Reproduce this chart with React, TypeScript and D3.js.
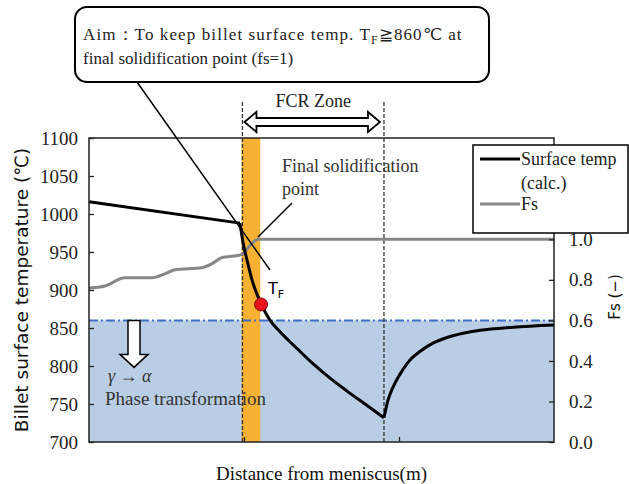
import * as d3 from "d3";
import { useEffect, useRef } from "react";

// distance from meniscus (m, arbitrary 0-3 units) vs billet surface temp (°C)
const tempDist = [0, 0.974, 0.994, 1.02, 1.052, 1.11, 1.168, 1.232, 1.342, 1.445, 1.555, 1.665, 1.794, 1.903, 1.929, 1.961, 2.006, 2.071, 2.135, 2.219, 2.31, 2.413, 2.523, 2.735, 3.0];
const tempValues = [1016, 988, 962, 939, 913, 882, 860, 845, 823, 803, 784, 767, 748, 732, 755, 772, 789, 808, 819, 830, 837.5, 843, 847, 851, 854];
const kinkIndex = 1;
const minIndex = 13;

// solid fraction
const fsDist = [0, 0.103, 0.232, 0.406, 0.49, 0.555, 0.729, 0.794, 0.858, 0.961, 0.994, 1.039, 1.09, 1.155, 3.0];
const fsValues = [0.76, 0.77, 0.81, 0.81, 0.83, 0.85, 0.86, 0.88, 0.91, 0.92, 0.93, 0.97, 1.0, 1.0, 1.0];

const leftTicks = [700, 750, 800, 850, 900, 950, 1000, 1050, 1100];
const rightTicks = [0, 0.2, 0.4, 0.6, 0.8, 1.0];
const bottomTicks = [1, 2];

const aimTemp = 860;
const fcrZone = [0.99, 1.903];
const solidBand = [0.985, 1.105];
const finalPoint = { dist: 1.11, temp: 881 };

const serif = "'Liberation Serif', serif";
const sans = "'DejaVu Sans', sans-serif";

export default function App() {
  const ref = useRef<SVGSVGElement>(null);
  const width = 629;
  const height = 484;
  const m = { left: 89, right: 75, top: 138, bottom: 42 };

  useEffect(() => {
    const svg = d3.select(ref.current);
    svg.selectAll("*").remove();

    const x = d3.scaleLinear().domain([0, 3]).range([m.left, width - m.right]);
    const y = d3.scaleLinear().domain([700, 1100]).range([height - m.bottom, m.top]);
    const y2 = d3.scaleLinear().domain([0, 1.5]).range([height - m.bottom, m.top]);
    const [x0, x1] = x.range();
    const [yb, yt] = y.range();

    // phase transformation region
    svg.append("rect")
      .attr("x", x0).attr("y", y(aimTemp))
      .attr("width", x1 - x0).attr("height", yb - y(aimTemp))
      .attr("fill", "#b9cde5");

    // final solidification band
    svg.append("rect")
      .attr("x", x(solidBand[0])).attr("y", yt)
      .attr("width", x(solidBand[1]) - x(solidBand[0])).attr("height", yb - yt)
      .attr("fill", "#f6b133");

    svg.append("line")
      .attr("x1", x0).attr("x2", x1)
      .attr("y1", y(aimTemp)).attr("y2", y(aimTemp))
      .attr("stroke", "#3f6fc6").attr("stroke-width", 2)
      .attr("stroke-dasharray", "9,3,2,3");

    // FCR zone bounds
    svg.append("g")
      .selectAll("line")
      .data(fcrZone)
      .join("line")
      .attr("x1", (d) => x(d)).attr("x2", (d) => x(d))
      .attr("y1", 102).attr("y2", yb)
      .attr("stroke", "#333").attr("stroke-width", 1.3)
      .attr("stroke-dasharray", "4,2");

    // Fs curve
    const fsLine = d3.line<number>()
      .x((d, i) => x(fsDist[i]))
      .y((d) => y2(d))
      .curve(d3.curveMonotoneX);
    svg.append("path")
      .attr("d", fsLine(fsValues))
      .attr("fill", "none").attr("stroke", "#878787").attr("stroke-width", 3);

    // surface temperature curve, split at the kink and at the minimum
    const pts = tempDist.map((d, i) => [d, tempValues[i]] as [number, number]);
    const segs: [[number, number][], d3.CurveFactory][] = [
      [pts.slice(0, kinkIndex + 1), d3.curveLinear],
      [pts.slice(kinkIndex, minIndex + 1), d3.curveMonotoneX],
      [pts.slice(minIndex), d3.curveMonotoneX],
    ];
    segs.forEach(([s, c]) => {
      const line = d3.line<[number, number]>().x((d) => x(d[0])).y((d) => y(d[1])).curve(c);
      svg.append("path")
        .attr("d", line(s))
        .attr("fill", "none").attr("stroke", "#000").attr("stroke-width", 3)
        .attr("stroke-linejoin", "round");
    });

    // frame
    svg.append("rect")
      .attr("x", x0).attr("y", yt)
      .attr("width", x1 - x0).attr("height", yb - yt)
      .attr("fill", "none").attr("stroke", "#222").attr("stroke-width", 1.5);

    const gl = svg.append("g")
      .attr("transform", `translate(${x0},0)`)
      .call(d3.axisLeft(y).tickValues(leftTicks).tickSize(-5).tickPadding(11).tickFormat(d3.format("d")));
    const gr = svg.append("g")
      .attr("transform", `translate(${x1},0)`)
      .call(d3.axisRight(y2).tickValues(rightTicks).tickSize(-5).tickPadding(15).tickFormat(d3.format(".1f")));
    const gb = svg.append("g")
      .attr("transform", `translate(0,${yb})`)
      .call(d3.axisBottom(x).tickValues(bottomTicks).tickSize(-5).tickFormat(() => ""));
    [gl, gr, gb].forEach((g) => {
      g.select(".domain").remove();
      g.selectAll(".tick line").attr("stroke", "#222").attr("stroke-width", 1.3);
      g.selectAll(".tick text")
        .attr("font-family", serif).attr("font-size", 19).attr("fill", "#222");
    });

    // axis titles
    svg.append("text")
      .attr("transform", `translate(21,${(yt + yb) / 2}) rotate(-90)`)
      .attr("text-anchor", "middle").attr("dominant-baseline", "central")
      .attr("font-family", sans).attr("font-size", 18.5).attr("fill", "#111")
      .text("Billet surface temperature (℃)");
    svg.append("text")
      .attr("transform", `translate(615,297) rotate(-90)`)
      .attr("text-anchor", "middle").attr("dominant-baseline", "central")
      .attr("font-family", sans).attr("font-size", 15).attr("fill", "#111")
      .text("Fs (−)");
    svg.append("text")
      .attr("x", (x0 + x1) / 2).attr("y", 480)
      .attr("text-anchor", "middle")
      .attr("font-family", serif).attr("font-size", 19).attr("fill", "#111")
      .text("Distance from meniscus(m)");

    // FCR zone double arrow
    const ax0 = x(fcrZone[0]) + 2;
    const ax1 = x(fcrZone[1]) - 4;
    const ay = 122;
    svg.append("polygon")
      .attr("points", [
        [ax0, ay], [ax0 + 12, ay - 10], [ax0 + 12, ay - 4], [ax1 - 12, ay - 4], [ax1 - 12, ay - 10],
        [ax1, ay], [ax1 - 12, ay + 10], [ax1 - 12, ay + 4], [ax0 + 12, ay + 4], [ax0 + 12, ay + 10],
      ].map((p) => p.join(",")).join(" "))
      .attr("fill", "#fff").attr("stroke", "#000").attr("stroke-width", 1.8);
    svg.append("text")
      .attr("x", (x(fcrZone[0]) + x(fcrZone[1])) / 2).attr("y", 107)
      .attr("text-anchor", "middle")
      .attr("font-family", serif).attr("font-size", 18).attr("fill", "#222")
      .text("FCR Zone");

    // phase transformation arrow and text
    const dx = 134;
    const dt = y(aimTemp);
    svg.append("polygon")
      .attr("points", [
        [dx - 6, dt], [dx + 6, dt], [dx + 6, dt + 34], [dx + 14, dt + 34],
        [dx, dt + 47], [dx - 14, dt + 34], [dx - 6, dt + 34],
      ].map((p) => p.join(",")).join(" "))
      .attr("fill", "#fff").attr("stroke", "#000").attr("stroke-width", 1.5);
    svg.append("text")
      .attr("x", 108).attr("y", 382)
      .attr("font-family", serif).attr("font-size", 18).attr("font-style", "italic").attr("fill", "#333")
      .text("γ → α");
    svg.append("text")
      .attr("x", 105).attr("y", 405)
      .attr("font-family", serif).attr("font-size", 19).attr("fill", "#333")
      .text("Phase transformation");

    // final solidification point annotation
    svg.append("line")
      .attr("x1", 292).attr("y1", 203).attr("x2", 258).attr("y2", 237)
      .attr("stroke", "#000").attr("stroke-width", 1.5);
    svg.append("text")
      .attr("font-family", serif).attr("font-size", 18).attr("fill", "#333")
      .call((t) => t.append("tspan").attr("x", 282).attr("y", 172).text("Final solidification"))
      .call((t) => t.append("tspan").attr("x", 282).attr("y", 195).text("point"));

    svg.append("circle")
      .attr("cx", x(finalPoint.dist)).attr("cy", y(finalPoint.temp)).attr("r", 6.5)
      .attr("fill", "#e8141b").attr("stroke", "#7a1010").attr("stroke-width", 1);
    svg.append("text")
      .attr("x", 268).attr("y", 294)
      .attr("font-family", sans).attr("font-size", 16).attr("fill", "#000")
      .call((t) => t.append("tspan").text("T"))
      .call((t) => t.append("tspan").attr("font-size", 11).attr("dy", 4).text("F"));

    // callout
    svg.append("line")
      .attr("x1", 137).attr("y1", 82).attr("x2", 270).attr("y2", 270)
      .attr("stroke", "#000").attr("stroke-width", 1.5);
    svg.append("rect")
      .attr("x", 75).attr("y", 7).attr("width", 414).attr("height", 75).attr("rx", 12)
      .attr("fill", "#fff").attr("stroke", "#000").attr("stroke-width", 2);
    svg.append("text")
      .attr("x", 83).attr("y", 40)
      .attr("font-family", serif).attr("font-size", 17).attr("fill", "#222")
      .attr("letter-spacing", 1.1)
      .call((t) => t.append("tspan").text("Aim：To keep billet surface temp. T"))
      .call((t) => t.append("tspan").attr("font-size", 12).attr("dy", 4).text("F"))
      .call((t) => t.append("tspan").attr("dy", -4).text("≧860℃ at"));
    svg.append("text")
      .attr("x", 83).attr("y", 64)
      .attr("font-family", serif).attr("font-size", 17).attr("fill", "#222")
      .text("final solidification point (fs=1)");

    // legend
    const lg = svg.append("g");
    lg.append("rect")
      .attr("x", 473).attr("y", 145).attr("width", 155).attr("height", 88)
      .attr("fill", "#fff").attr("stroke", "#000").attr("stroke-width", 1.5);
    const items = [
      { stroke: "#000", ly: 159, lines: [["Surface temp", 165], ["(calc.)", 189]] },
      { stroke: "#878787", ly: 204, lines: [["Fs", 210]] },
    ];
    items.forEach((it) => {
      lg.append("line")
        .attr("x1", 480).attr("x2", 520).attr("y1", it.ly).attr("y2", it.ly)
        .attr("stroke", it.stroke).attr("stroke-width", 3);
      it.lines.forEach(([s, yy]) => {
        lg.append("text")
          .attr("x", 521).attr("y", yy as number)
          .attr("font-family", serif).attr("font-size", 18).attr("fill", "#222")
          .text(s as string);
      });
    });
  }, []);

  return (
    <svg
      ref={ref}
      width={width}
      height={height}
      style={{ position: "absolute", left: 0, top: 0, background: "#fff" }}
    />
  );
}
